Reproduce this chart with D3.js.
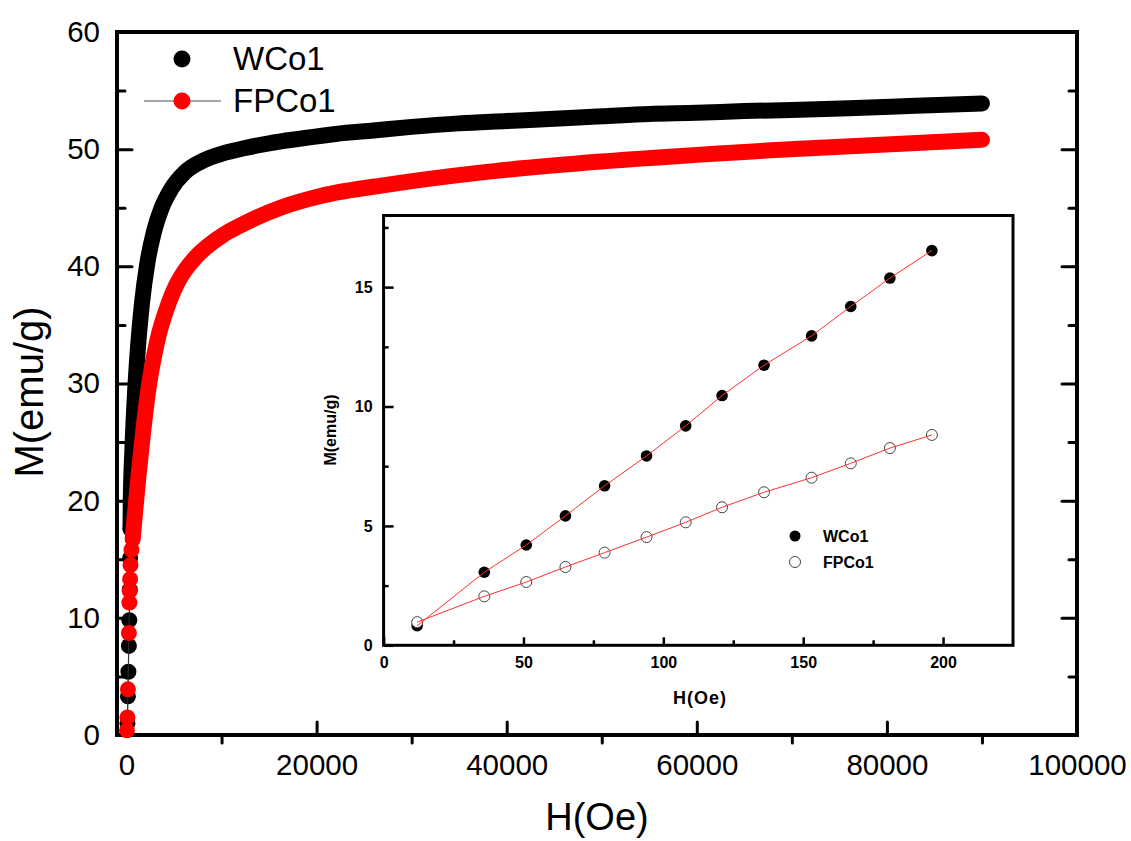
<!DOCTYPE html>
<html>
<head>
<meta charset="utf-8">
<script src="https://cdn.jsdelivr.net/npm/d3@7"></script>
<style>
  body { margin: 0; background: #fff; }
  svg { display: block; }
  text { font-family: "Liberation Sans", Arial, sans-serif; }
</style>
</head>
<body>
<script>

// main axes
var mainTicksX = [0, 20000, 40000, 60000, 80000, 100000];
var mainMinorX = [10000, 30000, 50000, 70000, 90000];
var mainTicksY = [0, 10, 20, 30, 40, 50, 60];
var mainMinorY = [5, 15, 25, 35, 45, 55];

// WCo1, low field points (drawn one by one)
var wco1LowH = [100, 150, 200, 250, 300, 340, 380, 420];
var wco1LowM = [1.0, 3.3, 5.4, 7.6, 9.8, 12.4, 15.1, 17.6];
// WCo1, dense part of the curve
var wco1H = [420, 450, 600, 850, 1200, 1650, 2200, 2900, 3700, 4700, 6100, 8000,
  10000, 12500, 15000, 18300, 22000, 26000, 30000, 35000, 40000, 45000, 50000,
  55000, 60000, 65000, 70000, 76000, 83000, 90000];
var wco1M = [17.6, 20, 24, 28.5, 33, 37, 40.3, 43, 45, 46.6, 48, 49,
  49.6, 50.1, 50.5, 50.9, 51.3, 51.6, 51.9, 52.2, 52.4, 52.6, 52.8,
  53.0, 53.1, 53.25, 53.35, 53.5, 53.7, 53.9];

// FPCo1, low field points
var fpco1LowH = [50, 100, 150, 250, 300, 340, 380, 420, 520];
var fpco1LowM = [0.4, 1.5, 3.9, 8.7, 11.3, 12.3, 13.3, 14.5, 15.8];
// FPCo1, dense part
var fpco1H = [650, 900, 1250, 1700, 2300, 3200, 4500, 5300, 6200, 7300, 8500, 10200,
  12000, 16200, 20400, 27700, 37200, 50900, 69800, 90000];
var fpco1M = [16.7, 19, 22, 25.5, 29.5, 33.5, 37, 38.5, 39.7, 40.8, 41.7, 42.7,
  43.5, 45, 46, 47, 48, 49, 50, 50.8];

// inset (low field)
var insetH = [12, 36, 51, 65, 79, 94, 108, 121, 136, 153, 167, 181, 196];
var insetWCo1 = [0.82, 3.06, 4.2, 5.42, 6.68, 7.93, 9.19, 10.46, 11.73, 12.96, 14.19, 15.38, 16.53];
var insetFPCo1 = [0.97, 2.05, 2.65, 3.28, 3.88, 4.53, 5.15, 5.78, 6.41, 7.02, 7.62, 8.26, 8.81];
var insetTicksX = [0, 50, 100, 150, 200];
var insetMinorX = [25, 75, 125, 175];
var insetTicksY = [0, 5, 10, 15];
var insetMinorY = [2.5, 7.5, 12.5, 17.5];

var seriesNames = ["WCo1", "FPCo1"];


var zip = function(xs, ys) {
  return xs.map(function(x, i) { return [x, ys[i]]; });
};

var build_chart = function() {
  var w = 1131;
  var h = 841;

  var svg = d3.select("body")
    .append("svg")
    .attr("width", w)
    .attr("height", h);

  var x = d3.scaleLinear().domain([-1000, 100000]).range([117, 1077]);
  var y = d3.scaleLinear().domain([0, 60]).range([735, 32]);

  // ticks, all pointing inside except the bottom minors
  var tickStyle = function(g) {
    g.select(".domain").remove();
    g.selectAll(".tick line")
      .attr("stroke", "#000")
      .attr("stroke-width", 3)
      .attr("stroke-linecap", "round");
    g.selectAll(".tick text")
      .attr("fill", "#000")
      .attr("font-size", 29.5);
  };

  svg.append("g")
    .attr("transform", "translate(0,735)")
    .call(d3.axisBottom(x).tickValues(mainTicksX).tickSize(-13).tickPadding(19)
      .tickFormat(d3.format("d")))
    .call(tickStyle);
  svg.append("g")
    .attr("transform", "translate(0,735)")
    .call(d3.axisBottom(x).tickValues(mainMinorX).tickSize(8).tickFormat(""))
    .call(tickStyle);
  svg.append("g")
    .attr("transform", "translate(117,0)")
    .call(d3.axisLeft(y).tickValues(mainTicksY).tickSize(-15).tickPadding(17))
    .call(tickStyle);
  svg.append("g")
    .attr("transform", "translate(117,0)")
    .call(d3.axisLeft(y).tickValues(mainMinorY).tickSize(-8).tickFormat(""))
    .call(tickStyle);
  svg.append("g")
    .attr("transform", "translate(1077,0)")
    .call(d3.axisRight(y).tickValues(mainTicksY).tickSize(-15).tickFormat(""))
    .call(tickStyle);
  svg.append("g")
    .attr("transform", "translate(1077,0)")
    .call(d3.axisRight(y).tickValues(mainMinorY).tickSize(-8).tickFormat(""))
    .call(tickStyle);

  svg.append("rect")
    .attr("x", 117).attr("y", 32)
    .attr("width", 1077 - 117).attr("height", 735 - 32)
    .attr("fill", "none")
    .attr("stroke", "#000")
    .attr("stroke-width", 4);

  // axis titles
  svg.append("text")
    .attr("x", 597).attr("y", 830)
    .attr("text-anchor", "middle")
    .attr("font-size", 38)
    .text("H(Oe)");
  svg.append("text")
    .attr("transform", "translate(43,392) rotate(-90)")
    .attr("text-anchor", "middle")
    .attr("font-size", 40)
    .text("M(emu/g)");

  // main curves: dense symbols look like a thick band
  var band = d3.line()
    .x(function(d) { return x(d[0]); })
    .y(function(d) { return y(d[1]); })
    .curve(d3.curveMonotoneX);

  var draw_series = function(lowH, lowM, H, M, color) {
    var low = zip(lowH, lowM);
    var dense = zip(H, M);
    var g = svg.append("g");
    g.append("path")
      .attr("d", band(low.concat(dense.slice(1))))
      .attr("fill", "none")
      .attr("stroke", "#333")
      .attr("stroke-width", 1);
    g.selectAll("circle.low")
      .data(low)
      .enter()
      .append("circle")
      .attr("class", "low")
      .attr("cx", function(d) { return x(d[0]); })
      .attr("cy", function(d) { return y(d[1]); })
      .attr("r", 8)
      .attr("fill", color);
    g.append("path")
      .attr("d", band(dense))
      .attr("fill", "none")
      .attr("stroke", color)
      .attr("stroke-width", 16)
      .attr("stroke-linecap", "round")
      .attr("stroke-linejoin", "round");
  };

  draw_series(wco1LowH, wco1LowM, wco1H, wco1M, "#000");
  draw_series(fpco1LowH, fpco1LowM, fpco1H, fpco1M, "#ff0000");

  // main legend
  svg.append("line")
    .attr("x1", 144).attr("x2", 221)
    .attr("y1", 101).attr("y2", 101)
    .attr("stroke", "#888")
    .attr("stroke-width", 1.5);
  svg.append("circle").attr("cx", 182).attr("cy", 59).attr("r", 8.5).attr("fill", "#000");
  svg.append("circle").attr("cx", 182).attr("cy", 101).attr("r", 8.5).attr("fill", "#ff0000");
  svg.selectAll("text.legend")
    .data(seriesNames)
    .enter()
    .append("text")
    .attr("class", "legend")
    .attr("x", 233)
    .attr("y", function(d, i) { return 70 + i * 42; })
    .attr("font-size", 33)
    .text(function(d) { return d; });

  // ---- inset ----
  var ix = d3.scaleLinear().domain([0, 225]).range([383.6, 1013]);
  var iy = d3.scaleLinear().domain([0, 18]).range([645.3, 215.5]);

  svg.append("rect")
    .attr("x", 383.6).attr("y", 215.5)
    .attr("width", 1013 - 383.6).attr("height", 645.3 - 215.5)
    .attr("fill", "#fff");

  var insetStyle = function(g) {
    g.select(".domain").remove();
    g.selectAll(".tick line")
      .attr("stroke", "#000")
      .attr("stroke-width", 2.5);
    g.selectAll(".tick text")
      .attr("fill", "#000")
      .attr("font-size", 16)
      .attr("font-weight", "bold");
  };

  svg.append("g")
    .attr("transform", "translate(0,645.3)")
    .call(d3.axisBottom(ix).tickValues(insetTicksX).tickSize(-8).tickPadding(11))
    .call(insetStyle);
  svg.append("g")
    .attr("transform", "translate(0,645.3)")
    .call(d3.axisBottom(ix).tickValues(insetMinorX).tickSize(-5).tickFormat(""))
    .call(insetStyle);
  svg.append("g")
    .attr("transform", "translate(383.6,0)")
    .call(d3.axisLeft(iy).tickValues(insetTicksY).tickSize(-10).tickPadding(11))
    .call(insetStyle);
  svg.append("g")
    .attr("transform", "translate(383.6,0)")
    .call(d3.axisLeft(iy).tickValues(insetMinorY).tickSize(-5).tickFormat(""))
    .call(insetStyle);

  svg.append("rect")
    .attr("x", 383.6).attr("y", 215.5)
    .attr("width", 1013 - 383.6).attr("height", 645.3 - 215.5)
    .attr("fill", "none")
    .attr("stroke", "#000")
    .attr("stroke-width", 3);

  svg.append("text")
    .attr("x", 700).attr("y", 704)
    .attr("text-anchor", "middle")
    .attr("font-size", 18)
    .attr("font-weight", "bold")
    .attr("letter-spacing", 1)
    .text("H(Oe)");
  svg.append("text")
    .attr("transform", "translate(336,430) rotate(-90)")
    .attr("text-anchor", "middle")
    .attr("font-size", 16)
    .attr("font-weight", "bold")
    .text("M(emu/g)");

  var insetLine = d3.line()
    .x(function(d) { return ix(d[0]); })
    .y(function(d) { return iy(d[1]); });

  var wco1Pts = zip(insetH, insetWCo1);
  var fpco1Pts = zip(insetH, insetFPCo1);

  svg.selectAll("circle.iw")
    .data(wco1Pts)
    .enter()
    .append("circle")
    .attr("class", "iw")
    .attr("cx", function(d) { return ix(d[0]); })
    .attr("cy", function(d) { return iy(d[1]); })
    .attr("r", 5.8)
    .attr("fill", "#000");
  svg.selectAll("circle.ifp")
    .data(fpco1Pts)
    .enter()
    .append("circle")
    .attr("class", "ifp")
    .attr("cx", function(d) { return ix(d[0]); })
    .attr("cy", function(d) { return iy(d[1]); })
    .attr("r", 5.5)
    .attr("fill", "#fff")
    .attr("stroke", "#444")
    .attr("stroke-width", 1);

  [wco1Pts, fpco1Pts].forEach(function(pts) {
    svg.append("path")
      .attr("d", insetLine(pts))
      .attr("fill", "none")
      .attr("stroke", "#ff3030")
      .attr("stroke-width", 1);
  });

  // inset legend
  svg.append("circle").attr("cx", 795).attr("cy", 536).attr("r", 5.5).attr("fill", "#000");
  svg.append("circle").attr("cx", 795).attr("cy", 562).attr("r", 5.5)
    .attr("fill", "#fff").attr("stroke", "#444").attr("stroke-width", 1);
  svg.selectAll("text.ilegend")
    .data(seriesNames)
    .enter()
    .append("text")
    .attr("class", "ilegend")
    .attr("x", 823)
    .attr("y", function(d, i) { return 542 + i * 26; })
    .attr("font-size", 16)
    .attr("font-weight", "bold")
    .text(function(d) { return d; });
};

build_chart();
</script>
</body>
</html>
